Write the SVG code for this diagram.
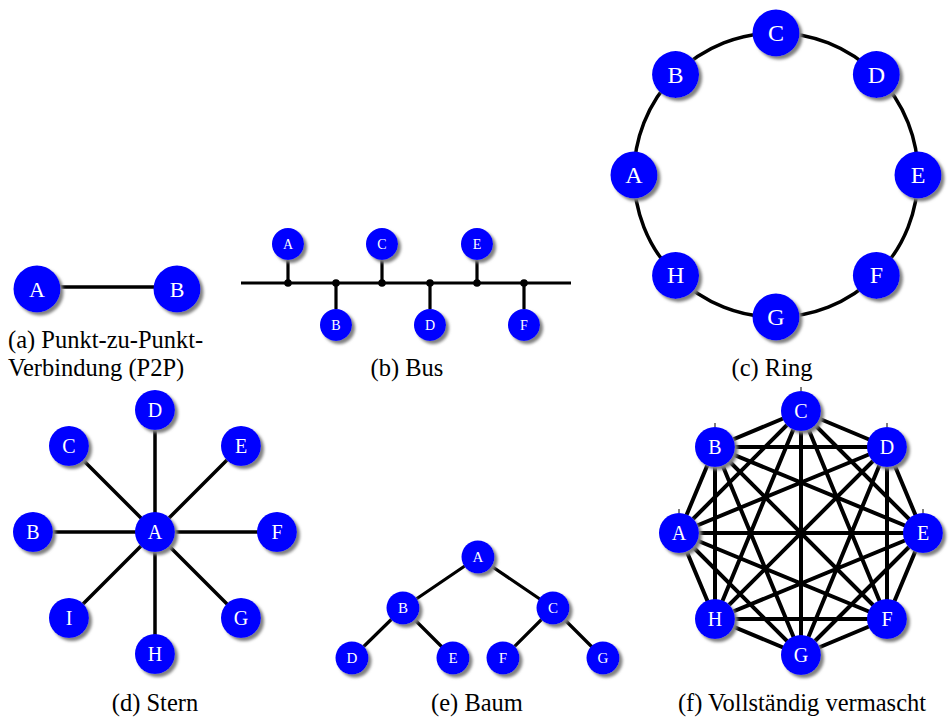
<svg xmlns="http://www.w3.org/2000/svg" width="949" height="718" viewBox="0 0 949 718">
<style>
.edge{stroke:#000;stroke-width:3.5;fill:none;stroke-linecap:butt}
.thin{stroke-width:3.2}
.tick{stroke:#000;stroke-width:1;fill:none}
.node circle{fill:#0000ff;filter:url(#shadow)}
.node text{font-family:"Liberation Serif","Times New Roman",serif;fill:#fff;text-anchor:middle}
.n23 text{font-size:24px}
.n21 text{font-size:22px}
.n20 text{font-size:20px}
.n15 text{font-size:15px}
.n14 text{font-size:14px}
.cap{font-family:"Liberation Serif","Times New Roman",serif;font-size:24.5px;fill:#000}
.mid{text-anchor:middle}
</style>
<defs>
<filter id="shadow" x="-40%" y="-40%" width="180%" height="180%">
<feGaussianBlur in="SourceAlpha" stdDeviation="1.5"/>
<feOffset dx="2.5" dy="2.5" result="b"/>
<feFlood flood-color="#808080"/>
<feComposite in2="b" operator="in"/>
<feMerge><feMergeNode/><feMergeNode in="SourceGraphic"/></feMerge>
</filter>
</defs>
<rect width="949" height="718" fill="#fff"/>

<g id="connectors">
<line class="edge" x1="37" y1="287" x2="177" y2="287"/>
<line class="edge thin" x1="241" y1="283" x2="571" y2="283"/>
<path class="edge thin" d="M288 258V283M336 283V309M382 258V283M430 283V309M477 258V283M524 283V309"/>
<g fill="#000"><circle cx="288" cy="283" r="3.8"/><circle cx="336" cy="283" r="3.8"/><circle cx="382" cy="283" r="3.8"/><circle cx="430" cy="283" r="3.8"/><circle cx="477" cy="283" r="3.8"/><circle cx="524" cy="283" r="3.8"/></g>
<circle class="edge" cx="776" cy="175" r="142"/>
<path class="edge" d="M155 532L33 532M155 532L69 446M155 532L155 410M155 532L241 446M155 532L277 532M155 532L241 618M155 532L155 654M155 532L69 618"/>
<path class="edge thin" d="M478 557L403 608M478 557L553 608M403 608L352 658M403 608L453 658M553 608L503 658M553 608L603 658"/>
<path class="edge" style="stroke-width:4" d="M679 533L715 447M679 533L801 411M679 533L887 447M679 533L923 533M679 533L887 619M679 533L801 655M679 533L715 619M715 447L801 411M715 447L887 447M715 447L923 533M715 447L887 619M715 447L801 655M715 447L715 619M801 411L887 447M801 411L923 533M801 411L887 619M801 411L801 655M801 411L715 619M887 447L923 533M887 447L887 619M887 447L801 655M887 447L715 619M923 533L887 619M923 533L801 655M923 533L715 619M887 619L801 655M887 619L715 619M801 655L715 619"/>
<path class="tick" d="M801 387V391M715 423V427M887 423V427M679 509V513M923 509V513"/>
</g>

<g id="p2p-A" class="node n21"><circle cx="37" cy="289" r="23.5"/><text x="37" y="297">A</text></g>
<g id="p2p-B" class="node n21"><circle cx="177" cy="289" r="23.5"/><text x="177" y="297">B</text></g>

<g id="bus-A" class="node n14"><circle cx="288" cy="244" r="16"/><text x="288" y="249">A</text></g>
<g id="bus-B" class="node n14"><circle cx="336" cy="325" r="16"/><text x="336" y="330">B</text></g>
<g id="bus-C" class="node n14"><circle cx="382" cy="244" r="16"/><text x="382" y="249">C</text></g>
<g id="bus-D" class="node n14"><circle cx="430" cy="325" r="16"/><text x="430" y="330">D</text></g>
<g id="bus-E" class="node n14"><circle cx="477" cy="244" r="16"/><text x="477" y="249">E</text></g>
<g id="bus-F" class="node n14"><circle cx="524" cy="325" r="16"/><text x="524" y="330">F</text></g>

<g id="ring-A" class="node n23"><circle cx="634" cy="175" r="23.5"/><text x="634" y="183">A</text></g>
<g id="ring-B" class="node n23"><circle cx="675.6" cy="74.6" r="23.5"/><text x="675.6" y="82.6">B</text></g>
<g id="ring-C" class="node n23"><circle cx="776" cy="33" r="23.5"/><text x="776" y="41">C</text></g>
<g id="ring-D" class="node n23"><circle cx="876.4" cy="74.6" r="23.5"/><text x="876.4" y="82.6">D</text></g>
<g id="ring-E" class="node n23"><circle cx="918" cy="175" r="23.5"/><text x="918" y="183">E</text></g>
<g id="ring-F" class="node n23"><circle cx="876.4" cy="275.4" r="23.5"/><text x="876.4" y="283.4">F</text></g>
<g id="ring-G" class="node n23"><circle cx="776" cy="317" r="23.5"/><text x="776" y="325">G</text></g>
<g id="ring-H" class="node n23"><circle cx="675.6" cy="275.4" r="23.5"/><text x="675.6" y="283.4">H</text></g>

<g id="star-A" class="node n20"><circle cx="155" cy="532" r="20"/><text x="155" y="539">A</text></g>
<g id="star-B" class="node n20"><circle cx="33" cy="532" r="20"/><text x="33" y="539">B</text></g>
<g id="star-C" class="node n20"><circle cx="69" cy="446" r="20"/><text x="69" y="453">C</text></g>
<g id="star-D" class="node n20"><circle cx="155" cy="410" r="20"/><text x="155" y="417">D</text></g>
<g id="star-E" class="node n20"><circle cx="241" cy="446" r="20"/><text x="241" y="453">E</text></g>
<g id="star-F" class="node n20"><circle cx="277" cy="532" r="20"/><text x="277" y="539">F</text></g>
<g id="star-G" class="node n20"><circle cx="241" cy="618" r="20"/><text x="241" y="625">G</text></g>
<g id="star-H" class="node n20"><circle cx="155" cy="654" r="20"/><text x="155" y="661">H</text></g>
<g id="star-I" class="node n20"><circle cx="69" cy="618" r="20"/><text x="69" y="625">I</text></g>

<g id="tree-A" class="node n15"><circle cx="478" cy="557" r="16.5"/><text x="478" y="562">A</text></g>
<g id="tree-B" class="node n15"><circle cx="403" cy="608" r="16.5"/><text x="403" y="613">B</text></g>
<g id="tree-C" class="node n15"><circle cx="553" cy="608" r="16.5"/><text x="553" y="613">C</text></g>
<g id="tree-D" class="node n15"><circle cx="352" cy="658" r="16.5"/><text x="352" y="663">D</text></g>
<g id="tree-E" class="node n15"><circle cx="453" cy="658" r="16.5"/><text x="453" y="663">E</text></g>
<g id="tree-F" class="node n15"><circle cx="503" cy="658" r="16.5"/><text x="503" y="663">F</text></g>
<g id="tree-G" class="node n15"><circle cx="603" cy="658" r="16.5"/><text x="603" y="663">G</text></g>

<g id="mesh-A" class="node n20"><circle cx="679" cy="533" r="20"/><text x="679" y="540">A</text></g>
<g id="mesh-B" class="node n20"><circle cx="715" cy="447" r="20"/><text x="715" y="454">B</text></g>
<g id="mesh-C" class="node n20"><circle cx="801" cy="411" r="20"/><text x="801" y="418">C</text></g>
<g id="mesh-D" class="node n20"><circle cx="887" cy="447" r="20"/><text x="887" y="454">D</text></g>
<g id="mesh-E" class="node n20"><circle cx="923" cy="533" r="20"/><text x="923" y="540">E</text></g>
<g id="mesh-F" class="node n20"><circle cx="887" cy="619" r="20"/><text x="887" y="626">F</text></g>
<g id="mesh-G" class="node n20"><circle cx="801" cy="655" r="20"/><text x="801" y="662">G</text></g>
<g id="mesh-H" class="node n20"><circle cx="715" cy="619" r="20"/><text x="715" y="626">H</text></g>

<g id="captions">
<text class="cap" x="8" y="348">(a) Punkt-zu-Punkt-</text>
<text class="cap" x="8" y="376">Verbindung (P2P)</text>
<text class="cap mid" x="407" y="376">(b) Bus</text>
<text class="cap mid" x="772" y="376">(c) Ring</text>
<text class="cap mid" x="155" y="711">(d) Stern</text>
<text class="cap mid" x="477" y="711">(e) Baum</text>
<text class="cap mid" x="802" y="711">(f) Vollständig vermascht</text>
</g>
</svg>
